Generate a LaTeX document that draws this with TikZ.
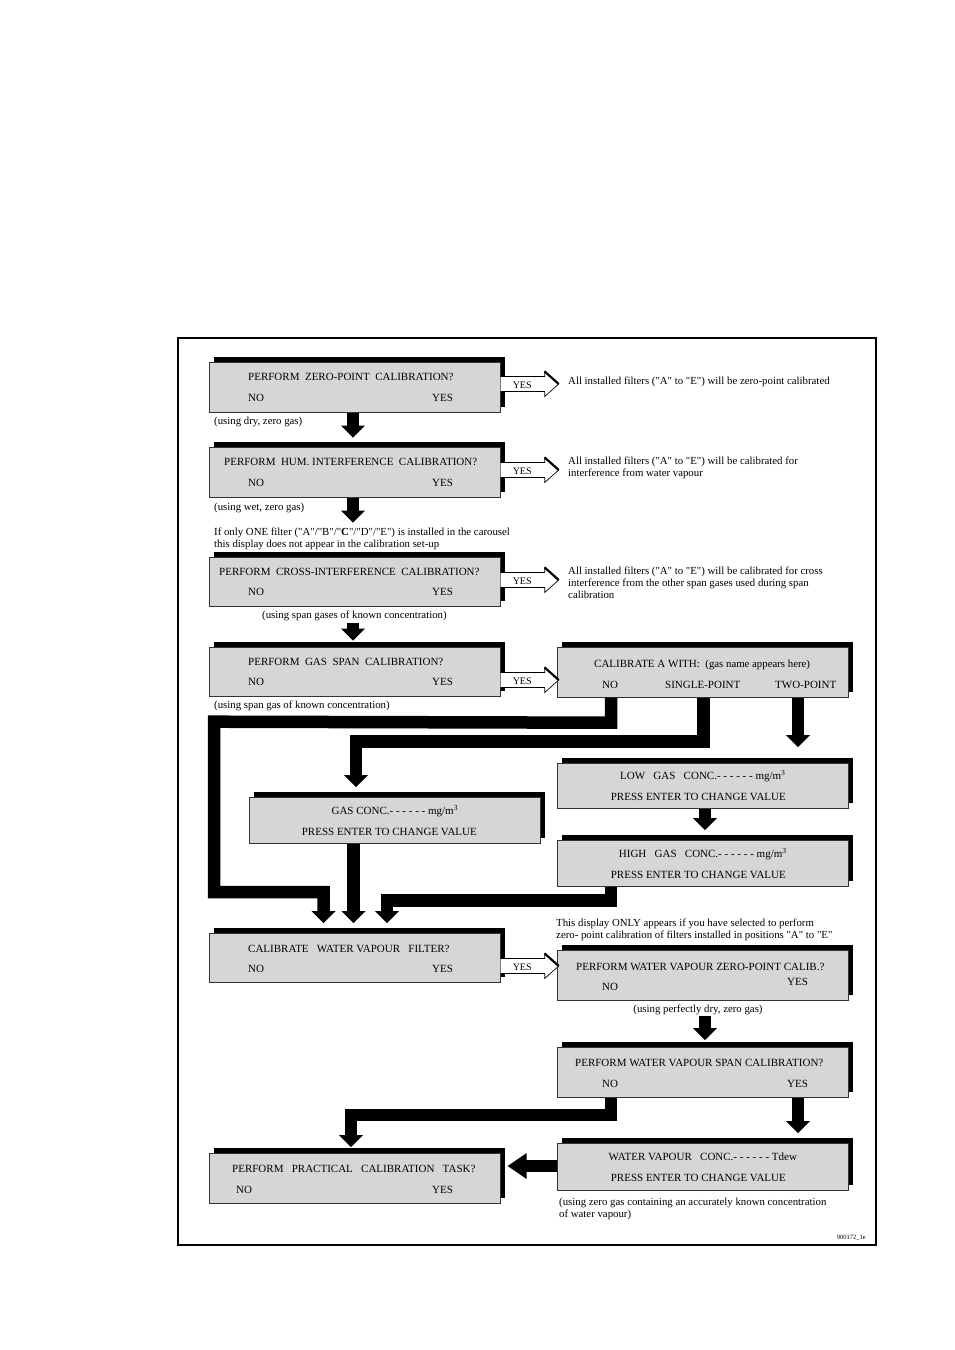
\documentclass[tikz,border=0pt]{standalone}
\usepackage{fontspec}
\setmainfont{Liberation Serif}
\usetikzlibrary{calc,shadows}
\definecolor{boxgrey}{HTML}{D6D6D6}
\newcommand\dq{\textquotedbl}
\newcommand\DHead[1]{\fill ($(#1)+(-12,-12)$) -- ($(#1)+(12,-12)$) -- (#1) -- cycle;}
\newcommand\LHead[1]{\fill ($(#1)+(19,-13)$) -- ($(#1)+(19,13)$) -- (#1) -- cycle;}
\newcommand\YesArrow[1]{%
  \draw[yesarrow] ($(#1)+(0,-7.5)$) -- ++(44,0) -- ++(0,-5) -- ++(14,12.5) -- ++(-14,12.5) -- ++(0,-5) -- ++(-44,0);
  \draw[line width=2.2pt] ($(#1)+(44,-12.5)$) -- ($(#1)+(58,0)$);
  \node[inner sep=0pt, font=\fontsize{10}{12}\selectfont, anchor=base] (#1t) at ($(#1)+(21.5,4)$) {YES};}
\begin{document}
\begin{tikzpicture}[x=1pt,y=-1pt,
  box/.style={draw=black!80, line width=0.7pt, fill=boxgrey, minimum width=291pt, minimum height=50pt,
    inner sep=0pt, anchor=north west, general shadow={fill=black, shadow xshift=5pt, shadow yshift=5pt}},
  cbox/.style={box, align=center, font=\fontsize{11}{21}\selectfont},
  bt/.style={font=\fontsize{11}{13}\selectfont, inner sep=0pt, anchor=base west},
  nt/.style={font=\fontsize{10.8}{12}\selectfont, inner sep=0pt, anchor=base west, align=left},
  conn/.style={line width=12.5pt, line join=miter, line cap=butt},
  yesarrow/.style={draw=black, line width=0.7pt, fill=white}]
\useasboundingbox (0,0) rectangle (955,1350);
\draw[line width=1.3pt] (178,338) rectangle (876,1245);

% ---------- boxes ----------
\node[box] (b1) at (209,362) {};
\node[box] (b2) at (209,447) {};
\node[box, minimum height=49pt] (b3) at (209,557) {};
\node[box, minimum height=49pt] (b4) at (209,647) {};
\node[box] (b5) at (557,647) {};
\node[cbox, minimum height=45pt] (b6) at (557,763) {LOW\ \ \ GAS\ \ \ CONC.- - - - - - mg/m\textsuperscript{3}\\PRESS ENTER TO CHANGE VALUE\hspace*{9pt}};
\node[cbox, minimum height=46pt] (b7) at (557,840) {HIGH\ \ \ GAS\ \ \ CONC.- - - - - - mg/m\textsuperscript{3}\\PRESS ENTER TO CHANGE VALUE\hspace*{9pt}};
\node[cbox, minimum height=46pt] (b8) at (249,797) {GAS CONC.- - - - - - mg/m\textsuperscript{3}\\PRESS ENTER TO CHANGE VALUE\hspace*{11pt}};
\node[box, minimum height=49pt] (b9) at (209,933) {};
\node[box] (b10) at (557,950) {};
\node[box] (b11) at (557,1047) {};
\node[cbox, minimum height=47pt] (b12) at (557,1143) {WATER VAPOUR\ \ \ CONC.- - - - - - Tdew\\PRESS ENTER TO CHANGE VALUE\hspace*{9pt}};
\node[box] (b13) at (209,1153) {};

% ---------- box texts ----------
\node[bt] (b1a) at ($(b1.north west)+(39,18)$) {PERFORM\ \ ZERO-POINT\ \ CALIBRATION?};
\node[bt] (b1n) at ($(b1.north west)+(39,39)$) {NO};
\node[bt] (b1y) at ($(b1.north west)+(223,39)$) {YES};

\node[bt] (b2a) at ($(b2.north west)+(15,18)$) {PERFORM\ \ HUM. INTERFERENCE\ \ CALIBRATION?};
\node[bt] (b2n) at ($(b2.north west)+(39,39)$) {NO};
\node[bt] (b2y) at ($(b2.north west)+(223,39)$) {YES};

\node[bt] (b3a) at ($(b3.north west)+(10,18)$) {PERFORM\ \ CROSS-INTERFERENCE\ \ CALIBRATION?};
\node[bt] (b3n) at ($(b3.north west)+(39,38)$) {NO};
\node[bt] (b3y) at ($(b3.north west)+(223,38)$) {YES};

\node[bt] (b4a) at ($(b4.north west)+(39,18)$) {PERFORM\ \ GAS\ \ SPAN\ \ CALIBRATION?};
\node[bt] (b4n) at ($(b4.north west)+(39,38)$) {NO};
\node[bt] (b4y) at ($(b4.north west)+(223,38)$) {YES};

\node[bt] (b5a) at ($(b5.north west)+(37,20)$) {CALIBRATE A WITH:\ \ {\fontsize{10.8}{11}\selectfont(gas name appears here)}};
\node[bt] (b5n) at ($(b5.north west)+(45,41)$) {NO};
\node[bt] (b5s) at ($(b5.north west)+(108,41)$) {SINGLE-POINT};
\node[bt] (b5t) at ($(b5.north west)+(218,41)$) {TWO-POINT};

\node[bt] (b9a) at ($(b9.north west)+(39,19)$) {CALIBRATE\ \ \ WATER VAPOUR\ \ \ FILTER?};
\node[bt] (b9n) at ($(b9.north west)+(39,39)$) {NO};
\node[bt] (b9y) at ($(b9.north west)+(223,39)$) {YES};

\node[bt] (b10a) at ($(b10.north west)+(19,20)$) {PERFORM WATER VAPOUR ZERO-POINT CALIB.?};
\node[bt] (b10n) at ($(b10.north west)+(45,40)$) {NO};
\node[bt] (b10y) at ($(b10.north west)+(230,35)$) {YES};

\node[bt] (b11a) at ($(b11.north west)+(18,19)$) {PERFORM WATER VAPOUR SPAN CALIBRATION?};
\node[bt] (b11n) at ($(b11.north west)+(45,40)$) {NO};
\node[bt] (b11y) at ($(b11.north west)+(230,40)$) {YES};

\node[bt] (b13a) at ($(b13.north west)+(23,19)$) {PERFORM\ \ \ PRACTICAL\ \ \ CALIBRATION\ \ \ TASK?};
\node[bt] (b13n) at ($(b13.north west)+(27,40)$) {NO};
\node[bt] (b13y) at ($(b13.north west)+(223,40)$) {YES};

% ---------- annotations (multi-line nodes: base = last line) ----------
\node[nt] (n1) at (568,384) {All installed filters (\dq A\dq{} to \dq E\dq) will be zero-point calibrated};
\node[nt] (n2) at (568,476) {All installed filters (\dq A\dq{} to \dq E\dq) will be calibrated for\\interference from water vapour};
\node[nt] (n3) at (568,598) {All installed filters (\dq A\dq{} to \dq E\dq) will be calibrated for cross\\interference from the other span gases used during span\\calibration};
\node[nt] (u1) at (214,424) {(using dry, zero gas)};
\node[nt] (u2) at (214,510) {(using wet, zero gas)};
\node[nt] (u3) at (214,547) {If only ONE filter (\dq A\dq/\dq B\dq/\dq\textbf{C}\dq/\dq D\dq/\dq E\dq) is installed in the carousel\\this display does not appear in the calibration set-up};
\node[nt] (u4) at (262,618) {(using span gases of known concentration)};
\node[nt] (u5) at (214,708) {(using span gas of known concentration)};
\node[nt] (u6) at (556,938) {This display ONLY appears if you have selected to perform\\zero- point calibration of filters installed in positions \dq A\dq{} to \dq E\dq};
\node[nt, anchor=base] (u7) at (698,1012) {(using perfectly dry, zero gas)};
\node[nt] (u8) at (559,1217) {(using zero gas containing an accurately known concentration\\of water vapour)};
\node[inner sep=0pt, font=\fontsize{6.5}{7}\selectfont, anchor=base east] (code) at (866,1239) {900172\_1e};

% ---------- YES arrows ----------
\coordinate (y1) at ($(b1.north east)+(0,22)$);
\coordinate (y2) at ($(b2.north east)+(0,23)$);
\coordinate (y3) at ($(b3.north east)+(0,23)$);
\coordinate (y4) at ($(b4.north east)+(0,33)$);
\coordinate (y9) at ($(b9.north east)+(0,33)$);
\YesArrow{y1}
\YesArrow{y2}
\YesArrow{y3}
\YesArrow{y4}
\YesArrow{y9}

% ---------- thick connectors ----------
% b1 -> b2
\coordinate (p1) at ($(b1.south west)+(144,25)$);
\draw[conn] ($(b1.south west)+(144,0)$) -- ($(p1)+(0,-11.5)$);
\DHead{p1}
% b2 -> b3
\coordinate (p2) at ($(b2.south west)+(144,25)$);
\draw[conn] ($(b2.south west)+(144,0)$) -- ($(p2)+(0,-11.5)$);
\DHead{p2}
% b3 -> b4
\coordinate (s3) at ($(b3.south west)+(144,16)$);
\coordinate (p3) at ($(b3.south west)+(144,34)$);
\draw[conn] (s3) -- ($(p3)+(0,-11.5)$);
\DHead{p3}
% b5 NO -> b9
\coordinate (c5a) at ($(b5.south west)+(54,25)$);
\coordinate (c5b) at ($(b4.south west)+(5,25)$);
\coordinate (c5c) at ($(b9.north west)+(5,-41)$);
\coordinate (p5) at ($(b9.north west)+(114.5,-10)$);
\draw[conn] ($(b5.south west)+(54,0)$) -- (c5a) -- (c5b) -- (c5c) -- (c5c -| p5) -- ($(p5)+(0,-11.5)$);
\DHead{p5}
% b5 SINGLE -> b8
\coordinate (c6a) at ($(b5.south west)+(146.5,44)$);
\coordinate (p6) at ($(b8.north west)+(107,-10)$);
\draw[conn] ($(b5.south west)+(146.5,0)$) -- (c6a) -- (c6a -| p6) -- ($(p6)+(0,-11.5)$);
\DHead{p6}
% b5 TWO -> b6
\coordinate (p7) at ($(b6.north west)+(241,-16)$);
\draw[conn] ($(b5.south west)+(241,0)$) -- ($(p7)+(0,-11.5)$);
\DHead{p7}
% b6 -> b7
\coordinate (p8) at ($(b7.north west)+(148,-10)$);
\draw[conn] ($(b6.south west)+(148,0)$) -- ($(p8)+(0,-11.5)$);
\DHead{p8}
% b8 -> b9
\coordinate (p9) at ($(b9.north west)+(144.5,-10)$);
\draw[conn] ($(b8.south west)+(104.5,0)$) -- ($(p9)+(0,-11.5)$);
\DHead{p9}
% b7 -> b9
\coordinate (c10a) at ($(b7.south west)+(54,14)$);
\coordinate (p10) at ($(b9.north west)+(178,-10)$);
\draw[conn] ($(b7.south west)+(54,0)$) -- (c10a) -- (c10a -| p10) -- ($(p10)+(0,-11.5)$);
\DHead{p10}
% b10 -> b11
\coordinate (s12) at ($(b10.south west)+(148,15)$);
\coordinate (p12) at ($(b11.north west)+(148,-7)$);
\draw[conn] (s12) -- ($(p12)+(0,-11.5)$);
\DHead{p12}
% b11 NO -> b13
\coordinate (c13a) at ($(b11.south west)+(54,17.5)$);
\coordinate (p13) at ($(b13.north west)+(142,-6)$);
\draw[conn] ($(b11.south west)+(54,0)$) -- (c13a) -- (c13a -| p13) -- ($(p13)+(0,-11.5)$);
\DHead{p13}
% b11 YES -> b12
\coordinate (p14) at ($(b12.north west)+(241,-10)$);
\draw[conn] ($(b11.south west)+(241,0)$) -- ($(p14)+(0,-11.5)$);
\DHead{p14}
% b12 -> b13
\coordinate (p15) at ($(b13.north east)+(7,13)$);
\draw[conn] ($(b12.north west)+(0,23)$) -- ($(p15)+(18.5,0)$);
\LHead{p15}
\end{tikzpicture}
\end{document}
